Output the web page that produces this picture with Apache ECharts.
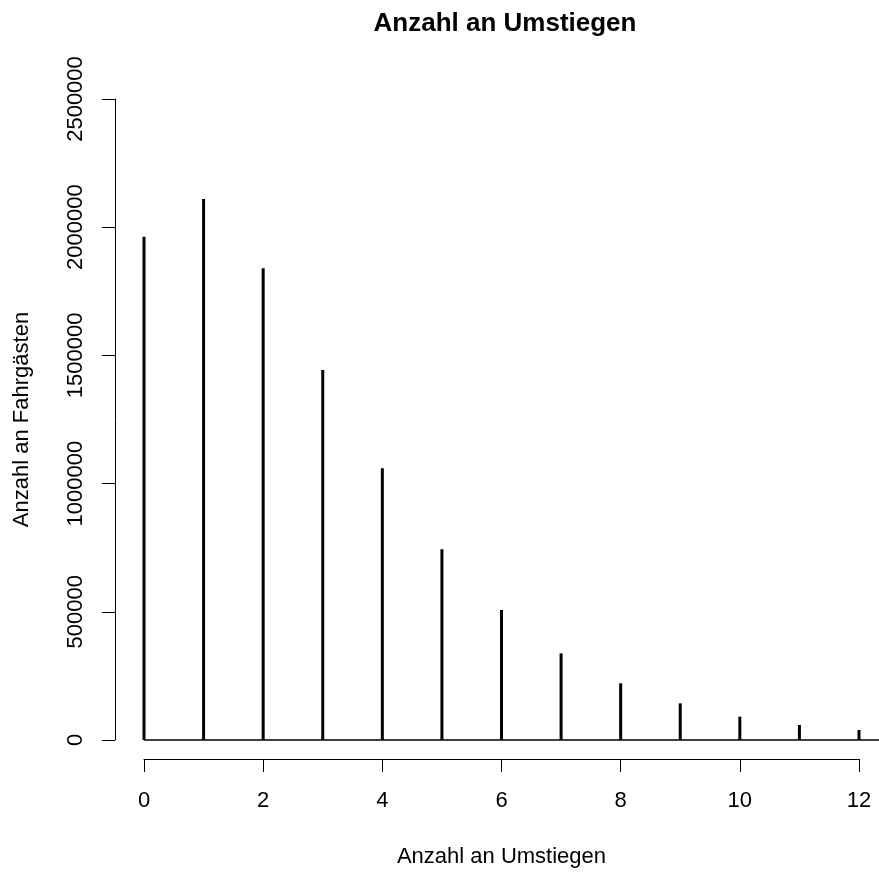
<!DOCTYPE html>
<html>
<head>
<meta charset="utf-8">
<script src="https://cdn.jsdelivr.net/npm/echarts@6/dist/echarts.min.js"></script>
<style>
  html, body { margin: 0; padding: 0; background: #fff; }
  #chart { width: 879px; height: 873px; }
</style>
</head>
<body>
<div id="chart"></div>
<script>
// Anzahl an Umstiegen -> Anzahl an Fahrgaesten
const umstiege = [0, 1, 2, 3, 4, 5, 6, 7, 8, 9, 10, 11, 12];
const fahrgaeste = [1963000, 2110000, 1840000, 1443000, 1060000, 744000, 507000, 338000, 221000, 143000, 91000, 58500, 39000];
const yTicks = [0, 500000, 1000000, 1500000, 2000000, 2500000];

const font = '"Liberation Sans", Arial, Helvetica, sans-serif';

const chart = echarts.init(document.getElementById('chart'), null, {
    devicePixelRatio: window.devicePixelRatio,
    renderer: 'canvas'
});

// pixels per unit on the x axis, used to let the data grid run to the right edge
const pxPerUnit = 715 / 12;
const xMaxData = 12 + (879 - 859) / pxPerUnit;

const option = {
    animation: false,
    backgroundColor: '#fff',
    title: {
        text: 'Anzahl an Umstiegen',
        left: 500,
        top: 6,
        textAlign: 'center',
        textStyle: { fontFamily: font, fontSize: 26, fontWeight: 'bold', color: '#000' }
    },
    grid: [
        { left: 144, right: 0, top: 99, bottom: 133 },   // data
        { left: 144, width: 715, top: 99, bottom: 133 }  // x axis only
    ],
    xAxis: [
        {
            gridIndex: 0, type: 'value', min: 0, max: xMaxData,
            show: false
        },
        {
            gridIndex: 1, type: 'value', min: 0, max: 12, interval: 2,
            position: 'bottom', offset: 26,
            name: 'Anzahl an Umstiegen', nameLocation: 'middle', nameGap: 87,
            nameTextStyle: { fontFamily: font, fontSize: 22, color: '#000' },
            axisLine: { show: true, onZero: false, lineStyle: { color: '#000', width: 1 } },
            axisTick: { show: true, length: 13, lineStyle: { color: '#000', width: 1 } },
            axisLabel: { fontFamily: font, fontSize: 22, color: '#000', margin: 31 },
            splitLine: { show: false }
        }
    ],
    yAxis: [
        {
            gridIndex: 0, type: 'value', min: 0, max: 2500000, interval: 500000,
            position: 'left', offset: 29,
            name: 'Anzahl an Fahrgästen', nameLocation: 'middle', nameGap: 82,
            nameTextStyle: { fontFamily: font, fontSize: 22, color: '#000' },
            axisLine: { show: true, onZero: false, lineStyle: { color: '#000', width: 1 } },
            axisTick: { show: true, length: 13, lineStyle: { color: '#000', width: 1 } },
            axisLabel: {
                fontFamily: font, fontSize: 22, color: '#000', margin: 28, rotate: 90,
                formatter: v => yTicks.includes(v) ? String(v) : ''
            },
            splitLine: { show: false }
        },
        { gridIndex: 1, type: 'value', min: 0, max: 2500000, show: false }
    ],
    series: [
        {
            type: 'bar',
            xAxisIndex: 0,
            yAxisIndex: 0,
            barWidth: 3,
            itemStyle: { color: '#000' },
            data: umstiege.map((x, i) => [x, fahrgaeste[i]]),
            markLine: {
                silent: true,
                symbol: 'none',
                label: { show: false },
                lineStyle: { color: '#000', width: 1.5, type: 'solid' },
                data: [{ yAxis: 0 }]
            }
        }
    ]
};

chart.setOption(option);
</script>
</body>
</html>
